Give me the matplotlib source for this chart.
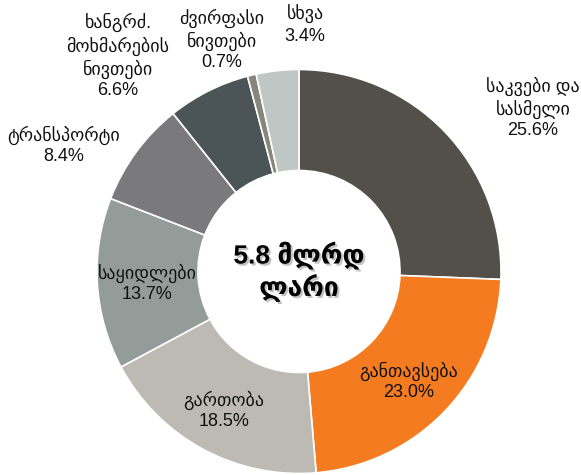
import matplotlib
matplotlib.use("Agg")
import matplotlib.pyplot as plt
import matplotlib.patheffects as pe

categories = ["საკვები და\nსასმელი", "განთავსება", "გართობა", "საყიდლები",
              "ტრანსპორტი", "ხანგრძ.\nმოხმარების\nნივთები", "ძვირფასი\nნივთები", "სხვა"]
values = [25.6, 23.0, 18.5, 13.7, 8.4, 6.6, 0.7, 3.4]
colors = ["#525048", "#F47B20", "#BCBAB2", "#939C99",
          "#7A797B", "#4B5558", "#86877A", "#BFC7C4"]
center_text = "5.8 მლრდ\nლარი"

# label layout (pixel positions, y measured from top)
label_pos = [(533, 108), (409, 381), (224, 410), (147, 283),
             (64, 145), (118, 56), (222, 40), (305, 25)]

W, H = 581, 475
plt.rcParams['font.family'] = ['Liberation Sans', 'DejaVu Sans']

fig = plt.figure(figsize=(W / 100, H / 100), dpi=100)
ax = fig.add_axes([0, 0, 1, 1])
ax.set_xlim(0, W)
ax.set_ylim(0, H)
ax.set_aspect('equal')
ax.axis('off')

cx, cy, R = 299, H - 271.5, 202
ax.pie(values, colors=colors, startangle=90, counterclock=False,
       center=(cx, cy), radius=R,
       wedgeprops=dict(width=R * 0.5, edgecolor='white', linewidth=1.2))
ax.set_xlim(0, W)
ax.set_ylim(0, H)

for cat, v, (x, y) in zip(categories, values, label_pos):
    ax.text(x, H - y, f"{cat}\n{v:.1f}%", ha='center', va='center',
            fontsize=13, color='#111111', linespacing=1.25)

ax.text(cx, cy, center_text, ha='center', va='center', fontsize=19,
        fontweight='bold', color='black', linespacing=1.2,
        path_effects=[pe.SimplePatchShadow(offset=(1.5, -1.5), shadow_rgbFace='#888888', alpha=0.5),
                      pe.Normal()])

fig.savefig("out.png", dpi=100)
